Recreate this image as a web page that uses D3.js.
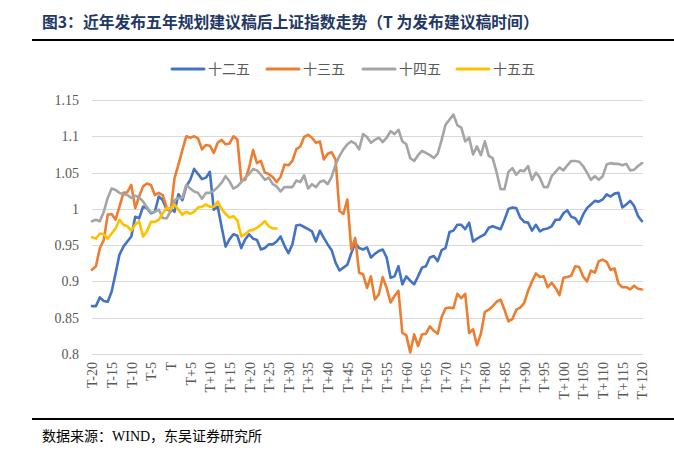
<!DOCTYPE html>
<html>
<head>
<meta charset="utf-8">
<script src="https://cdn.jsdelivr.net/npm/d3@7"></script>
<style>
  body { margin: 0; background: #fff; }
  svg { display: block; }
</style>
</head>
<body>
<script>
// T-20 .. T+120, one point per trading day
var offsets = d3.range(-20, 121);
var categories = offsets.map(function(d){ return d === 0 ? "T" : (d < 0 ? "T" + d : "T+" + d); });
var tickLabels = ["T-20","T-15","T-10","T-5","T","T+5","T+10","T+15","T+20","T+25","T+30","T+35","T+40","T+45","T+50",
  "T+55","T+60","T+65","T+70","T+75","T+80","T+85","T+90","T+95","T+100","T+105","T+110","T+115","T+120"];
var yTicks = [0.8, 0.85, 0.9, 0.95, 1, 1.05, 1.1, 1.15];

var seriesNames = ["十二五", "十三五", "十四五", "十五五"];

var s12 = [0.866,0.866,0.878,0.873,0.872,0.886,0.911,0.937,0.948,0.955,0.962,0.989,0.987,1.003,1.001,0.994,0.996,1.017,1.012,0.999,
  1.001,0.996,1.02,1.012,1.031,1.04,1.055,1.048,1.041,1.043,1.051,0.999,1.003,0.975,0.948,0.958,0.965,0.963,0.946,0.958,
  0.965,0.959,0.957,0.944,0.946,0.951,0.951,0.955,0.962,0.949,0.939,0.951,0.977,0.978,0.975,0.972,0.969,0.955,0.97,0.96,
  0.951,0.943,0.926,0.915,0.919,0.923,0.939,0.953,0.946,0.944,0.947,0.933,0.938,0.942,0.944,0.933,0.905,0.907,0.921,0.896,
  0.907,0.901,0.896,0.907,0.919,0.921,0.933,0.935,0.928,0.943,0.946,0.968,0.97,0.978,0.978,0.972,0.981,0.955,0.959,0.962,
  0.965,0.974,0.976,0.974,0.972,0.985,1.0,1.002,1.001,0.988,0.982,0.981,0.97,0.978,0.969,0.972,0.973,0.976,0.985,0.985,
  0.994,0.998,0.989,0.987,0.979,0.992,1.001,1.006,1.011,1.01,1.013,1.02,1.017,1.021,1.022,1.002,1.006,1.011,1.004,0.99,0.983];

var s13 = [0.916,0.921,0.946,0.957,0.992,0.993,0.985,1.003,1.022,1.023,1.033,1.001,1.017,1.031,1.035,1.033,1.019,1.022,1.019,1.002,
  0.996,1.042,1.061,1.081,1.1,1.098,1.1,1.097,1.082,1.088,1.087,1.077,1.091,1.095,1.089,1.09,1.1,1.096,1.039,1.04,
  1.057,1.081,1.063,1.066,1.05,1.048,1.044,1.037,1.044,1.061,1.06,1.066,1.082,1.086,1.099,1.102,1.098,1.091,1.093,1.068,
  1.076,1.078,1.068,0.997,0.993,1.013,0.944,0.96,0.912,0.91,0.891,0.907,0.875,0.882,0.906,0.891,0.871,0.88,0.887,0.829,
  0.826,0.802,0.827,0.811,0.827,0.828,0.838,0.832,0.828,0.851,0.863,0.864,0.863,0.883,0.877,0.883,0.829,0.834,0.812,0.828,
  0.858,0.861,0.866,0.872,0.875,0.861,0.845,0.848,0.861,0.864,0.87,0.887,0.9,0.911,0.906,0.907,0.892,0.898,0.891,0.881,
  0.905,0.906,0.908,0.921,0.92,0.907,0.9,0.915,0.912,0.928,0.93,0.927,0.916,0.918,0.897,0.892,0.892,0.889,0.894,0.89,0.889];

var s14 = [0.983,0.985,0.983,0.996,1.015,1.028,1.026,1.022,1.02,1.019,1.015,1.018,1.016,1.01,1.002,0.995,0.996,0.999,0.987,0.987,
  0.997,1.012,1.015,1.015,1.033,1.028,1.024,1.022,1.014,1.022,1.022,1.025,1.03,1.036,1.045,1.038,1.028,1.031,1.037,1.043,
  1.048,1.055,1.053,1.047,1.04,1.043,1.034,1.031,1.024,1.03,1.03,1.03,1.039,1.037,1.046,1.028,1.034,1.03,1.037,1.039,
  1.034,1.044,1.061,1.073,1.082,1.089,1.093,1.09,1.082,1.103,1.099,1.091,1.095,1.098,1.092,1.098,1.107,1.103,1.109,1.093,
  1.089,1.07,1.066,1.074,1.08,1.077,1.074,1.07,1.076,1.095,1.116,1.123,1.13,1.115,1.112,1.093,1.098,1.075,1.086,1.074,
  1.093,1.073,1.07,1.05,1.027,1.027,1.051,1.056,1.047,1.053,1.052,1.059,1.04,1.05,1.043,1.03,1.03,1.045,1.051,1.057,
  1.053,1.06,1.066,1.066,1.065,1.059,1.05,1.04,1.045,1.04,1.045,1.061,1.063,1.062,1.062,1.06,1.062,1.053,1.054,1.059,1.063];

var s15 = [0.961,0.959,0.966,0.965,0.959,0.966,0.973,0.985,0.978,0.976,0.97,0.978,0.983,0.962,0.969,0.982,0.982,0.985,0.994,1.001,
  1.0,1.006,0.999,0.992,0.996,0.993,0.996,1.002,1.003,1.006,1.003,1.003,1.01,1.0,0.993,0.988,0.99,0.984,0.962,0.965,
  0.97,0.971,0.974,0.978,0.983,0.976,0.973,0.973];

var colors = ["#4472C4", "#ED7D31", "#A5A5A5", "#FFC000"];
var allSeries = [s12, s13, s14, s15];

var W = 674, H = 453;
var margin = {top: 100, bottom: 99, left: 92, right: 32};

var svg = d3.select("body").append("svg").attr("width", W).attr("height", H);

var serif = "Liberation Serif, Noto Sans CJK SC, serif";
var cjk = "Noto Sans CJK SC, Liberation Serif, serif";

// title + rules
svg.append("text")
  .attr("x", 42).attr("y", 28)
  .attr("font-family", cjk).attr("font-weight", "bold").attr("font-size", 15.8)
  .attr("fill", "#1F3864")
  .text("图3：近年发布五年规划建议稿后上证指数走势（T 为发布建议稿时间）");
svg.append("line").attr("x1", 32).attr("x2", W).attr("y1", 40).attr("y2", 40)
  .attr("stroke", "#000").attr("stroke-width", 2);
svg.append("line").attr("x1", 32).attr("x2", W).attr("y1", 419).attr("y2", 419)
  .attr("stroke", "#000").attr("stroke-width", 2);
svg.append("text")
  .attr("x", 42).attr("y", 441)
  .attr("font-family", serif).attr("font-size", 14).attr("fill", "#000")
  .text("数据来源：WIND，东吴证券研究所");

var x = d3.scalePoint().domain(categories).range([margin.left, W - margin.right]);
var y = d3.scaleLinear().domain([0.8, 1.15]).range([H - margin.bottom, margin.top]);

// grid
svg.append("g").selectAll("line").data(yTicks).enter().append("line")
  .attr("x1", margin.left).attr("x2", W - margin.right + 1)
  .attr("y1", function(d){ return Math.round(y(d)) + 0.5; })
  .attr("y2", function(d){ return Math.round(y(d)) + 0.5; })
  .attr("stroke", "#D9D9D9").attr("stroke-width", 1);

// y axis labels
var yAxis = d3.axisLeft(y).tickValues(yTicks).tickSize(0).tickPadding(0)
  .tickFormat(function(d){ return d3.format("")(+d.toFixed(2)); });
var gy = svg.append("g").attr("transform", "translate(" + (margin.left - 13) + ",0)").call(yAxis);
gy.select(".domain").remove();
gy.selectAll("text").attr("font-family", serif).attr("font-size", 14).attr("fill", "#595959");

// x axis labels, rotated
var xAxis = d3.axisBottom(x).tickValues(tickLabels).tickSize(0).tickPadding(0);
var gx = svg.append("g").attr("transform", "translate(0," + (H - margin.bottom + 8) + ")").call(xAxis);
gx.select(".domain").remove();
gx.selectAll("text")
  .attr("font-family", serif).attr("font-size", 14).attr("fill", "#595959")
  .attr("transform", "rotate(-90)")
  .attr("text-anchor", "end")
  .attr("dy", "0.35em").attr("x", 0).attr("y", 0);

// lines
var line = d3.line()
  .x(function(d, i){ return x(categories[i]); })
  .y(function(d){ return y(d); });

svg.append("g").selectAll("path").data(allSeries).enter().append("path")
  .attr("d", line)
  .attr("fill", "none")
  .attr("stroke", function(d, i){ return colors[i]; })
  .attr("stroke-width", 2.6)
  .attr("stroke-linejoin", "round")
  .attr("stroke-linecap", "round");

// legend
var legendX = [172, 267, 363, 457];
var lg = svg.append("g").selectAll("g").data(seriesNames).enter().append("g")
  .attr("transform", function(d, i){ return "translate(" + legendX[i] + ",69)"; });
lg.append("line").attr("x1", 0).attr("x2", 32).attr("y1", 0).attr("y2", 0)
  .attr("stroke", function(d, i){ return colors[i]; }).attr("stroke-width", 3)
  .attr("stroke-linecap", "round");
lg.append("text").attr("x", 36).attr("y", 0).attr("dy", "0.36em")
  .attr("font-family", cjk).attr("font-size", 14).attr("fill", "#595959")
  .text(function(d){ return d; });
</script>
</body>
</html>
